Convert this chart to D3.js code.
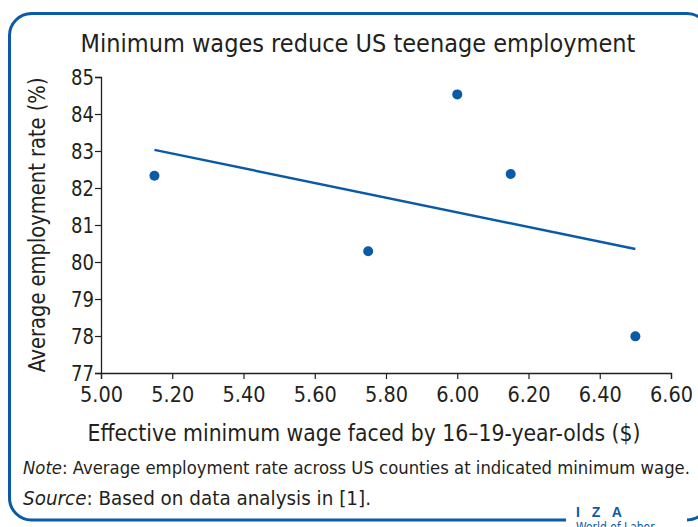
<!DOCTYPE html>
<html>
<head>
<meta charset="utf-8">
<script src="https://cdn.jsdelivr.net/npm/d3@7"></script>
<style>
  body { margin: 0; background: #fff; }
  svg text { font-family: "DejaVu Sans Condensed", "Liberation Sans", sans-serif; fill: #231f20; }
</style>
</head>
<body>
<svg id="chart" width="698" height="527"></svg>
<script>
// values
var wages = [5.15, 5.75, 6.00, 6.15, 6.50];
var employment = [82.33, 80.29, 84.53, 82.38, 77.99];
var trendWage = [5.15, 6.50];
var trendEmployment = [83.03, 80.35];
var xTicks = [5.00, 5.20, 5.40, 5.60, 5.80, 6.00, 6.20, 6.40, 6.60];
var yTicks = [77, 78, 79, 80, 81, 82, 83, 84, 85];

var blue = "#0a5aa8";
var ink = "#231f20";
var svg = d3.select("#chart");

// frame, running off the right edge, with a gap for the logo
var fr = {l: 9.5, t: 13.5, r: 709, b: 520, rad: 22};
var framePath = d3.path();
framePath.moveTo(566, fr.b);
framePath.lineTo(fr.l + fr.rad, fr.b);
framePath.arcTo(fr.l, fr.b, fr.l, fr.b - fr.rad, fr.rad);
framePath.lineTo(fr.l, fr.t + fr.rad);
framePath.arcTo(fr.l, fr.t, fr.l + fr.rad, fr.t, fr.rad);
framePath.lineTo(fr.r - fr.rad, fr.t);
framePath.arcTo(fr.r, fr.t, fr.r, fr.t + fr.rad, fr.rad);
framePath.lineTo(fr.r, fr.b - fr.rad);
framePath.arcTo(fr.r, fr.b, fr.r - fr.rad, fr.b, fr.rad);
framePath.lineTo(687, fr.b);
svg.append("path").attr("d", framePath.toString())
  .attr("fill", "none").attr("stroke", blue).attr("stroke-width", 3);

svg.append("text").attr("x", 576).attr("y", 517)
  .style("fill", blue).style("font-family", "Liberation Sans")
  .style("font-weight", "bold").style("font-size", "14px")
  .style("letter-spacing", "4px").text("I Z A");
svg.append("text").attr("x", 576).attr("y", 531)
  .style("fill", blue).style("font-size", "12px").text("World of Labor");

function fit(sel, w) {
  return sel.attr("textLength", w).attr("lengthAdjust", "spacingAndGlyphs");
}

svg.append("text").attr("x", 358).attr("y", 52).attr("text-anchor", "middle")
  .style("font-size", "25px")
  .text("Minimum wages reduce US teenage employment");

var x = d3.scaleLinear().domain([5.0, 6.6]).range([101, 671]);
var y = d3.scaleLinear().domain([77, 85]).range([373, 77]);

var gx = svg.append("g").attr("transform", "translate(0," + y(77) + ")")
  .call(d3.axisBottom(x).tickValues(xTicks).tickFormat(d3.format(".2f")).tickSizeOuter(0).tickSize(6));
var gy = svg.append("g").attr("transform", "translate(" + x(5.0) + ",0)")
  .call(d3.axisLeft(y).tickValues(yTicks).tickSizeOuter(0).tickSize(6));
[gx, gy].forEach(function(g){
  g.select(".domain").attr("stroke", ink).attr("stroke-width", 1.3);
  g.selectAll(".tick line").attr("stroke", ink).attr("stroke-width", 1.2);
  g.selectAll(".tick text").style("font-size", "22px").attr("fill", ink)
    .style("font-family", "DejaVu Sans Condensed, sans-serif");
});
gx.selectAll(".tick text").attr("dy", "0.9em").attr("textLength", 43).attr("lengthAdjust", "spacingAndGlyphs");
gy.selectAll(".tick text").attr("x", -7).attr("textLength", 23).attr("lengthAdjust", "spacingAndGlyphs");

fit(svg.append("text")
  .attr("transform", "translate(45," + y(81) + ") rotate(-90)")
  .attr("text-anchor", "middle").style("font-size", "23px")
  .text("Average employment rate (%)"), 295);

fit(svg.append("text").attr("x", 364).attr("y", 441).attr("text-anchor", "middle")
  .style("font-size", "23px")
  .text("Effective minimum wage faced by 16\u201319-year-olds ($)"), 553);

var note = svg.append("text").attr("x", 23).attr("y", 474).style("font-size", "18px");
note.append("tspan").style("font-style", "italic").text("Note");
note.append("tspan").text(": Average employment rate across US counties at indicated minimum wage.");
fit(note, 667);
var src = svg.append("text").attr("x", 23).attr("y", 505).style("font-size", "19px");
src.append("tspan").style("font-style", "italic").text("Source");
src.append("tspan").text(": Based on data analysis in [1].");
fit(src, 348);

var line = d3.line().x(function(d){ return x(d[0]); }).y(function(d){ return y(d[1]); });
svg.append("path").datum(d3.zip(trendWage, trendEmployment))
  .attr("d", line).attr("fill", "none").attr("stroke", blue).attr("stroke-width", 2.5);

svg.selectAll("circle.pt").data(d3.zip(wages, employment)).enter()
  .append("circle").attr("class", "pt")
  .attr("cx", function(d){ return x(d[0]); })
  .attr("cy", function(d){ return y(d[1]); })
  .attr("r", 5).attr("fill", blue);
</script>
</body>
</html>
